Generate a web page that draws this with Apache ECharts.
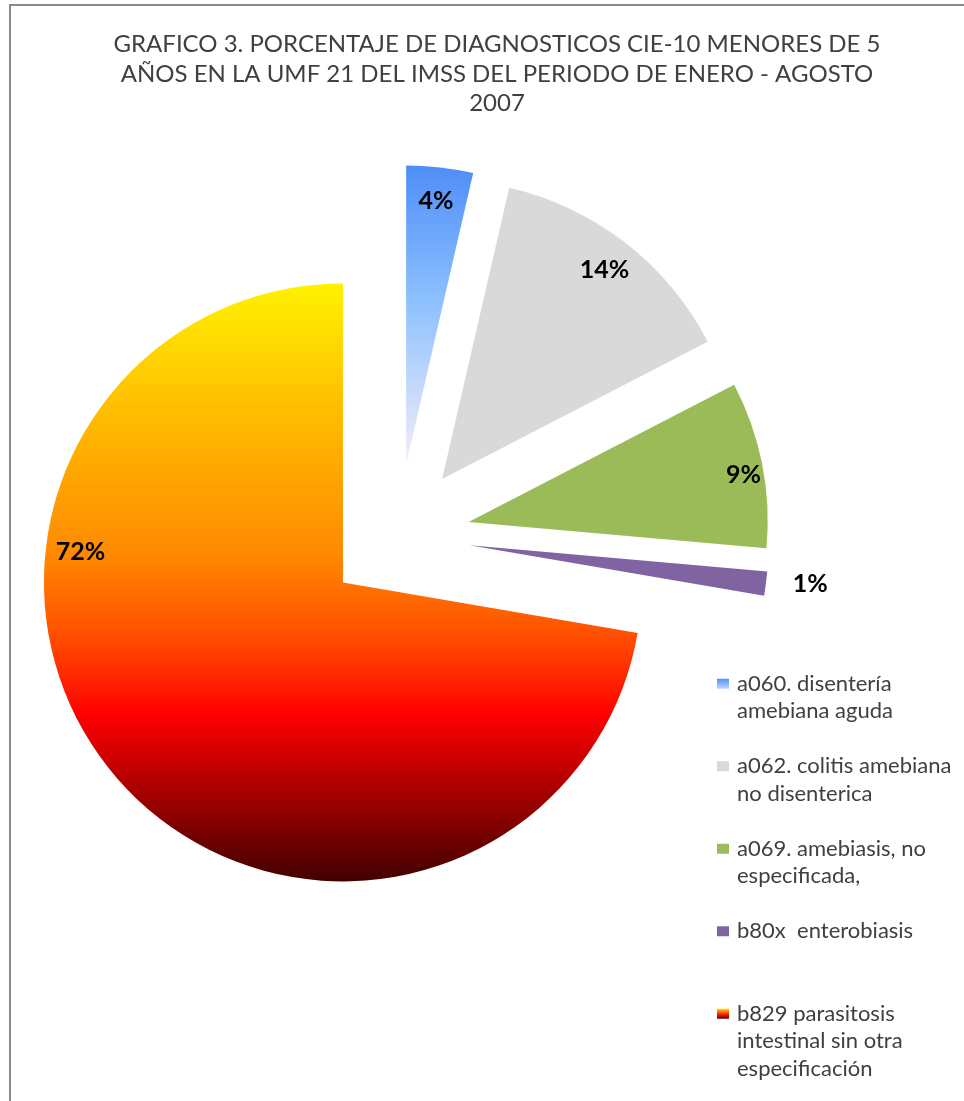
<!DOCTYPE html>
<html>
<head>
<meta charset="utf-8">
<script src="https://cdn.jsdelivr.net/npm/echarts@6.0.0/dist/echarts.min.js"></script>
<style>
  html, body { margin: 0; padding: 0; background: #fff; }
  #chart { width: 964px; height: 1101px; }
</style>
</head>
<body>
<div id="chart"></div>
<script>
// datos
var titleText = 'GRAFICO 3. PORCENTAJE DE DIAGNOSTICOS CIE-10 MENORES DE 5\nAÑOS EN LA UMF 21 DEL IMSS DEL PERIODO DE ENERO - AGOSTO\n2007';
var categories = [
    'a060. disentería amebiana aguda',
    'a062. colitis amebiana no disenterica',
    'a069. amebiasis, no especificada,',
    'b80x  enterobiasis',
    'b829 parasitosis intestinal sin otra especificación'
];
var legendLines = [
    ['a060. disentería', 'amebiana aguda'],
    ['a062. colitis amebiana', 'no disenterica'],
    ['a069. amebiasis, no', 'especificada,'],
    ['b80x  enterobiasis'],
    ['b829 parasitosis', 'intestinal sin otra', 'especificación']
];
var values = [3.6, 13.8, 9.0, 1.3, 72.3];

// colores
var grad = echarts.graphic.LinearGradient;
var colors = [
    new grad(0, 0, 0, 1, [
        { offset: 0, color: '#4f8ef8' },
        { offset: 0.45, color: '#8cc0ff' },
        { offset: 1, color: '#f6eef9' }
    ]),
    '#d9d9d9',
    '#9bbb59',
    '#8064a2',
    new grad(0, 0, 0, 1, [
        { offset: 0, color: '#fff200' },
        { offset: 0.2, color: '#ffc000' },
        { offset: 0.45, color: '#ff8a00' },
        { offset: 0.6, color: '#ff4a00' },
        { offset: 0.72, color: '#ff0000' },
        { offset: 0.86, color: '#a00000' },
        { offset: 1, color: '#420000' }
    ])
];
// iconos de la leyenda (el degradado cae dentro del cuadrito)
var legendIconColors = [
    new grad(0, 0, 0, 1, [
        { offset: 0.1, color: '#4f8ef8' },
        { offset: 0.24, color: '#c9dcff' }
    ]),
    null, null, null,
    new grad(0, 0, 0, 1, [
        { offset: 0.1, color: '#fff200' },
        { offset: 0.17, color: '#ff2000' },
        { offset: 0.23, color: '#5a0000' }
    ])
];

var R = 299;
// distancia / angulo de las etiquetas (estilo Excel)
var labelDist = [262, 262, 276, 340, 262];
var labelAngle = [null, null, 80.2, 96.5, 277];

var total = values.reduce(function (a, b) { return a + b; }, 0);
var acc = 0;
var midAngle = values.map(function (v) {
    var m = (acc + v / 2) / total * 360;
    acc += v;
    return m;
});

var chart = echarts.init(document.getElementById('chart'), null, { renderer: 'canvas' });

var option = {
    backgroundColor: '#fff',
    animation: false,
    title: {
        text: titleText,
        left: 497,
        top: 30,
        textAlign: 'center',
        padding: 0,
        textStyle: {
            fontFamily: 'Lato',
            fontSize: 24,
            fontWeight: 'normal',
            color: '#404040',
            lineHeight: 29.5
        }
    },
    legend: {
        orient: 'vertical',
        left: 717,
        top: 670,
        padding: 0,
        itemGap: 0,
        itemWidth: 15,
        itemHeight: 82.5,
        icon: 'path://M0,0M0,8.75h12v10h-12zM15,82.5',
        selectedMode: false,
        data: categories.map(function (c, i) {
            var d = { name: c };
            if (legendIconColors[i]) d.itemStyle = { color: legendIconColors[i] };
            return d;
        }),
        formatter: function (name) {
            var lines = legendLines[categories.indexOf(name)].slice();
            while (lines.length < 3) lines.push(' ');
            return lines.join('\n');
        },
        textStyle: {
            fontFamily: 'Lato',
            fontSize: 22,
            color: '#404040',
            lineHeight: 27.5
        }
    },
    graphic: [{
        type: 'rect',
        shape: { x: 10, y: 5, width: 1000, height: 1200 },
        style: { fill: 'none', stroke: '#8a8a8a', lineWidth: 2 },
        silent: true
    }],
    series: [{
        type: 'pie',
        center: [398, 536],
        radius: R,
        startAngle: 90,
        clockwise: true,
        selectedMode: 'multiple',
        selectedOffset: 72,
        percentPrecision: 0,
        emphasis: { disabled: true },
        itemStyle: { borderWidth: 0 },
        select: { itemStyle: { borderWidth: 0 } },
        label: {
            show: true,
            position: 'inside',
            formatter: '{d}%',
            fontFamily: 'Lato',
            fontSize: 25,
            fontWeight: 'bold',
            color: '#000'
        },
        labelLine: { show: false },
        labelLayout: function (p) {
            var i = p.dataIndex;
            var m = midAngle[i] * Math.PI / 180;
            var a = (labelAngle[i] != null ? labelAngle[i] : midAngle[i]) * Math.PI / 180;
            var d = labelDist[i];
            return {
                dx: d * Math.sin(a) - R / 2 * Math.sin(m),
                dy: -d * Math.cos(a) + R / 2 * Math.cos(m)
            };
        },
        data: categories.map(function (c, i) {
            return {
                name: c,
                value: values[i],
                selected: true,
                itemStyle: { color: colors[i] }
            };
        })
    }]
};

chart.setOption(option);
</script>
</body>
</html>
